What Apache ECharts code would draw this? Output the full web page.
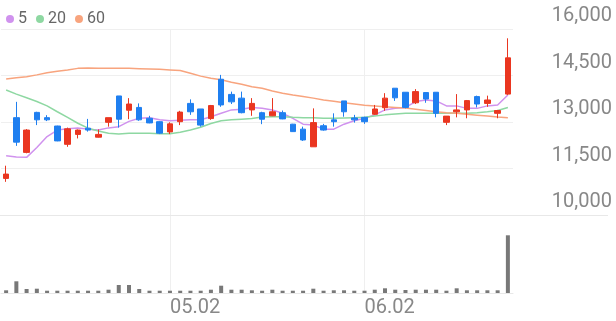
<!DOCTYPE html>
<html><head><meta charset="utf-8">
<script src="https://cdn.jsdelivr.net/npm/echarts@6/dist/echarts.min.js"></script>
<style>html,body{margin:0;padding:0;background:#fff}#c{width:616px;height:321px}</style>
</head><body><div id="c"></div>
<script>
const dates = ['04.09','04.10','04.11','04.14','04.15','04.16','04.17','04.18','04.21','04.22','04.23','04.24','04.25','04.28','04.29','04.30','05.02','05.07','05.08','05.09','05.12','05.13','05.14','05.15','05.16','05.19','05.20','05.21','05.22','05.23','05.26','05.27','05.28','05.29','05.30','06.02','06.04','06.05','06.09','06.10','06.11','06.12','06.13','06.16','06.17','06.18','06.19','06.20','06.23','06.24'];
const labeledDates = ['05.02','06.02'];
const openP  = [11180,13140,12020,13310,13140,12870,12280,12600,12800,12510,12990,13840,13380,13470,13120,13010,12680,13010,13600,13420,13110,14380,13890,13770,13390,13300,13200,13300,12930,12770,12200,12880,13070,13680,13130,13150,13250,13460,14090,13960,13620,13950,13960,12990,13330,13390,13820,13600,13280,13900];
const closeP = [11320,12350,12740,13070,13070,12390,12780,12740,12740,12600,13140,13090,13580,13070,12970,12640,12940,13320,13330,12900,13530,13550,13650,13300,13600,13090,13330,13100,12690,12420,12980,12740,13010,13330,13070,13010,13420,13770,13780,13470,13980,13740,13280,13190,13390,13690,13580,13710,13370,15070];
const lowP   = [11070,12230,11990,12900,13030,12380,12200,12470,12690,12500,12850,12820,13090,13040,12960,12610,12610,12900,13230,12850,13070,13490,13580,13280,13200,12930,13190,13090,12680,12390,12200,12720,12850,13170,12980,12940,13230,13360,13680,13440,13580,13620,13150,12900,13150,13120,13470,13490,13120,13870];
const highP  = [11590,13650,12770,13330,13220,12880,12820,12760,13100,12760,13140,13840,13770,13600,13200,13020,12990,13360,13730,13420,13550,14520,13980,13980,13770,13330,13770,13370,12940,12850,13440,12940,13280,13680,13230,13170,13550,13930,14090,13960,14060,13950,13960,13190,13900,13710,13850,13850,13390,15700];
const ma5  = [11910,11870,11860,12180,12530,12740,12780,12810,12770,12740,12810,12850,13020,13120,13140,13070,13040,13060,13070,13070,13170,13280,13390,13410,13470,13440,13390,13280,13120,12930,12900,12770,12770,12930,13040,13120,13230,13390,13440,13470,13660,13710,13680,13520,13520,13440,13440,13520,13550,13870];
const ma20 = [14030,13900,13780,13660,13520,13330,13150,12960,12800,12710,12640,12610,12640,12640,12640,12620,12620,12670,12740,12830,12950,13040,13070,13090,13110,13160,13170,13170,13150,13140,13140,13120,13120,13130,13140,13150,13190,13230,13260,13280,13280,13280,13280,13280,13280,13280,13300,13330,13370,13470];
const ma60 = [14390,14430,14460,14520,14590,14640,14680,14730,14740,14730,14730,14730,14730,14720,14710,14700,14680,14660,14570,14480,14410,14360,14280,14220,14140,14090,14000,13930,13870,13820,13770,13710,13670,13620,13580,13540,13520,13490,13470,13450,13410,13370,13330,13300,13280,13250,13220,13190,13160,13140];
const volume = [27000,117000,40000,43000,23000,23000,23000,23000,23000,23000,33000,80000,80000,40000,23000,23000,23000,23000,23000,23000,33000,73000,33000,33000,27000,23000,33000,23000,23000,23000,43000,23000,27000,27000,23000,23000,33000,47000,33000,30000,33000,33000,33000,23000,47000,27000,27000,27000,27000,577000];
const priceTicks = {min: 10000, max: 16000, step: 1500};
const maNames = ['5','20','60'];

const UP = '#ea3620', DOWN = '#1f7ff0';
const MA_COLORS = ['#d092ee','#8ed8a2','#f8a47e'];
const candles = dates.map((d,i)=>[openP[i], closeP[i], lowP[i], highP[i]]);
const isLabeled = (i, v) => labeledDates.indexOf(v !== undefined ? v : dates[i]) >= 0;

const chart = echarts.init(document.getElementById('c'), null, {renderer:'canvas'});
const GRID_L = 1, GRID_R = 103;
chart.setOption({
  animation: false,
  backgroundColor: '#fff',
  textStyle: {fontFamily: 'Roboto'},
  legend: {
    data: maNames, left: 1, top: 6, icon: 'circle', itemWidth: 8, itemHeight: 8, itemGap: 9,
    textStyle: {fontSize: 16, color: '#666', fontFamily: 'Roboto', padding: [0,0,0,-1]},
    selectedMode: false
  },
  grid: [
    {left: GRID_L, right: GRID_R, top: 29, height: 186, containLabel: false},
    {left: GRID_L, right: GRID_R, top: 215, height: 78, containLabel: false}
  ],
  xAxis: [
    {type: 'category', gridIndex: 0, data: dates, boundaryGap: true,
     axisLine: {show: false}, axisTick: {show: false}, axisLabel: {show: false},
     splitLine: {show: true, interval: (i, v) => isLabeled(i, v), alignWithLabel: true, lineStyle: {color: '#efefef', width: 1}}},
    {type: 'category', gridIndex: 1, data: dates, boundaryGap: true,
     axisLine: {show: true, lineStyle: {color: '#e8e8e8', width: 1}}, axisTick: {show: false},
     axisLabel: {show: true, interval: (i, v) => isLabeled(i, v), align: 'left', margin: 5, fontSize: 20, color: '#888', fontFamily: 'Roboto'},
     splitLine: {show: true, interval: (i, v) => isLabeled(i, v), alignWithLabel: true, lineStyle: {color: '#efefef', width: 1}}}
  ],
  yAxis: [
    {type: 'value', gridIndex: 0, position: 'right', min: priceTicks.min, max: priceTicks.max, interval: priceTicks.step,
     axisLine: {show: false}, axisTick: {show: false},
     axisLabel: {show: true, margin: 99, align: 'right', verticalAlign: 'bottom', padding: [0,0,3,0], fontSize: 20, color: '#888', fontFamily: 'Roboto',
       formatter: v => v.toLocaleString('en-US')},
     splitLine: {show: true, lineStyle: {color: '#efefef', width: 1}}},
    {type: 'value', gridIndex: 1, min: 0, max: 780000, show: false, splitLine: {show: false}}
  ],
  graphic: [
    {type: 'line', shape: {x1: 0, y1: 215.5, x2: 608, y2: 215.5}, style: {stroke: '#e8e8e8', lineWidth: 1}, silent: true, z: 1}
  ],
  series: [
    {type: 'candlestick', name: 'price', xAxisIndex: 0, yAxisIndex: 0, data: candles, barWidth: 6,
     itemStyle: {color: UP, color0: DOWN, borderColor: UP, borderColor0: DOWN, borderWidth: 1}, z: 3},
    ...maNames.map((n, k) => ({
      type: 'line', name: n, xAxisIndex: 0, yAxisIndex: 0, data: [ma5, ma20, ma60][k],
      showSymbol: false, smooth: false, lineStyle: {color: MA_COLORS[k], width: 1.5},
      itemStyle: {color: MA_COLORS[k]}, z: 2
    })),
    {type: 'bar', name: 'volume', xAxisIndex: 1, yAxisIndex: 1, data: volume, barWidth: 4,
     itemStyle: {color: '#787878'}}
  ]
});
</script>
</body></html>
